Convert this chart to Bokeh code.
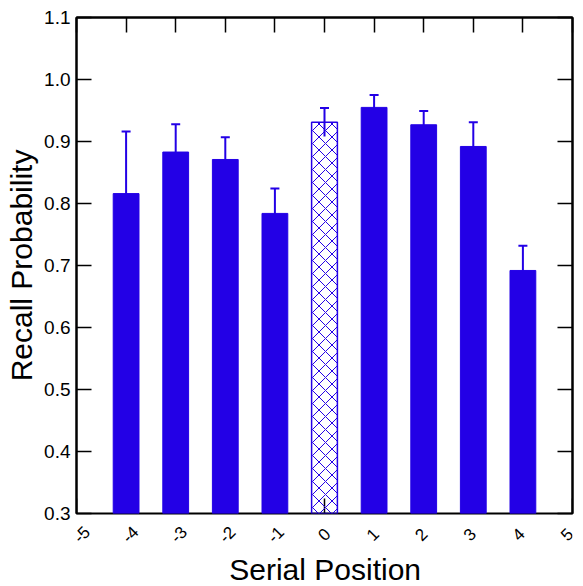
from bokeh.plotting import figure
from bokeh.layouts import column
from bokeh.models import FixedTicker, LinearAxis, Range1d, PrintfTickFormatter
from bokeh.core.properties import value
from bokeh.embed import file_html
from bokeh.resources import INLINE
import math

# Recall probability by serial position (relative to position 0)
positions = [-4, -3, -2, -1, 1, 2, 3, 4]
recall = [0.816, 0.883, 0.871, 0.784, 0.955, 0.927, 0.892, 0.692]
err = [0.100, 0.045, 0.036, 0.040, 0.020, 0.022, 0.039, 0.040]

center_pos = [0]
center_recall = [0.931]
center_err = [0.023]

x_ticks = [-5, -4, -3, -2, -1, 0, 1, 2, 3, 4, 5]
x_tick_labels = ["-5", "-4", "-3", "-2", "-1", "0", "1", "2", "3", "4", "5"]
y_ticks = [0.3, 0.4, 0.5, 0.6, 0.7, 0.8, 0.9, 1.0, 1.1]

BLUE = "#2300E6"
FONT = "Liberation Sans"
X_MIN, X_MAX = -5, 5
Y_MIN, Y_MAX = 0.3, 1.1

W = 583
FRAME_L, FRAME_R, FRAME_T, FRAME_B = 76, 11, 17, 11
FRAME_W = W - FRAME_L - FRAME_R
MAIN_H, STRIP_H = 524, 62

p = figure(width=W, height=MAIN_H, output_backend="svg", toolbar_location=None,
           x_range=Range1d(X_MIN, X_MAX), y_range=Range1d(Y_MIN, Y_MAX),
           x_axis_location=None,
           min_border_left=FRAME_L, min_border_right=FRAME_R,
           min_border_top=FRAME_T, min_border_bottom=FRAME_B,
           y_axis_label="Recall Probability")
p.grid.visible = False
p.outline_line_color = "black"
p.outline_line_width = 2
p.background_fill_color = "white"
p.border_fill_color = "white"

# bottom tick marks drawn as glyphs so that the bars can cover them
# (a vertical dash centred on the lower frame edge; the outer half is clipped)
p.scatter(x=x_ticks, y=[Y_MIN] * len(x_ticks), marker="dash", angle=math.pi / 2,
          size=30, line_color="black", line_width=1.5)

# error bars next, so the bars sit on top of their lower halves
all_x = positions + center_pos
all_y = recall + center_recall
all_e = err + center_err
lo = [y - e for y, e in zip(all_y, all_e)]
hi = [y + e for y, e in zip(all_y, all_e)]
p.segment(x0=all_x, y0=lo, x1=all_x, y1=hi, line_color=BLUE, line_width=2)
p.scatter(x=all_x, y=hi, marker="dash", size=9, line_color=BLUE, line_width=2)

p.vbar(x=positions, top=recall, bottom=Y_MIN, width=0.52,
       fill_color=BLUE, line_color=BLUE, line_width=1)
p.vbar(x=center_pos, top=center_recall, bottom=Y_MIN, width=0.52,
       fill_color=None, line_color=BLUE, line_width=1.5,
       hatch_pattern="x", hatch_color=BLUE, hatch_scale=13, hatch_weight=1)


def style_axis(ax, show_labels):
    ax.axis_line_color = "black"
    ax.axis_line_width = 2
    ax.major_tick_line_color = "black"
    ax.major_tick_line_width = 1.5
    ax.major_tick_in = 15
    ax.major_tick_out = 0
    ax.minor_tick_line_color = None
    ax.major_label_text_font = FONT
    ax.major_label_text_color = "black"
    ax.axis_label_text_font = FONT
    ax.axis_label_text_font_style = "normal"
    ax.axis_label_text_color = "black"
    if not show_labels:
        ax.major_label_text_font_size = "0px"
        ax.major_label_standoff = 0


ya = p.yaxis[0]
ya.ticker = FixedTicker(ticks=y_ticks)
ya.formatter = PrintfTickFormatter(format="%.1f")
style_axis(ya, True)
ya.major_label_text_font_size = "19px"
ya.major_label_standoff = 6
ya.axis_label_text_font_size = "30px"
ya.axis_label_standoff = 3

top_ax = LinearAxis(ticker=FixedTicker(ticks=x_ticks))
style_axis(top_ax, False)
p.add_layout(top_ax, "above")
right_ax = LinearAxis(ticker=FixedTicker(ticks=y_ticks))
style_axis(right_ax, False)
p.add_layout(right_ax, "right")

# strip under the plot for the slanted tick labels and the x axis title;
# its x scale matches the plot's, extended to the right page edge
strip_x_end = X_MAX + FRAME_R * (X_MAX - X_MIN) / FRAME_W
s = figure(width=W, height=STRIP_H, output_backend="svg", toolbar_location=None,
           x_range=Range1d(X_MIN, strip_x_end), y_range=Range1d(0, 1),
           x_axis_location=None, y_axis_location=None,
           min_border_left=FRAME_L, min_border_right=0,
           min_border_top=0, min_border_bottom=0)
s.grid.visible = False
s.outline_line_color = None
s.background_fill_color = "white"
s.border_fill_color = "white"

label_drop = 21 - FRAME_B      # labels sit 21 px below the frame
title_drop = 56 - FRAME_B      # title centre 56 px below the frame
s.text(x=x_ticks, y=[1] * len(x_ticks), text=x_tick_labels,
       x_offset=5, y_offset=label_drop, angle=math.pi / 4,
       text_align="center", text_baseline="middle",
       text_font=value(FONT), text_font_size="17px", text_color="black")
s.text(x=[0], y=[1], text=["Serial Position"], x_offset=6, y_offset=title_drop,
       text_align="center", text_baseline="middle",
       text_font=value(FONT), text_font_size="30px", text_color="black")

layout = column(p, s, spacing=0)
open("out.html", "w").write(file_html(layout, INLINE))
